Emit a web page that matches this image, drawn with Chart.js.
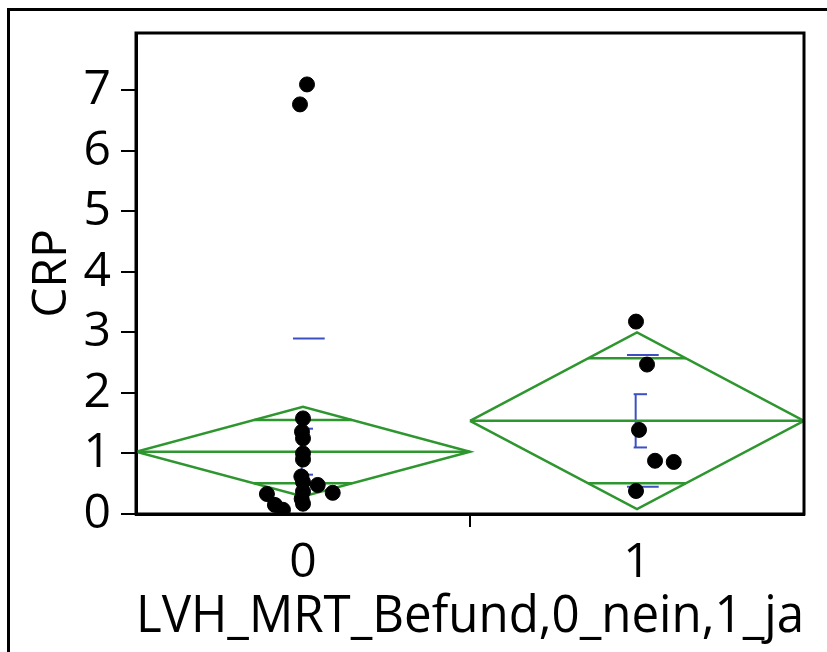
<!DOCTYPE html>
<html>
<head>
<meta charset="utf-8">
<script src="https://cdn.jsdelivr.net/npm/chart.js@4.4.1/dist/chart.umd.min.js"></script>
<style>
  html, body { margin: 0; padding: 0; background: #fff; }
  #wrap { position: relative; width: 827px; height: 652px; }
</style>
</head>
<body>
<div id="wrap"><canvas id="crpChart" width="827" height="652"></canvas></div>
<script>
// categories and raw CRP values (x jitter in category units)
const categories = ['0', '1'];
const crp0 = [7.1, 6.77, 1.58, 1.36, 1.25, 1.0, 0.9, 0.62, 0.53, 0.48, 0.37, 0.35, 0.33, 0.25, 0.17, 0.15, 0.07];
const jitter0 = [0.012, -0.009, 0.0, -0.003, 0.0, 0.0, 0.0, -0.005, 0.0, 0.044, 0.0, 0.089, -0.108, -0.004, 0.0, -0.084, -0.06];
const crp1 = [3.18, 2.47, 1.39, 0.88, 0.86, 0.38];
const jitter1 = [-0.003, 0.03, 0.006, 0.054, 0.11, -0.003];

// group summaries
const means = [1.03, 1.54];
const ciHalf = [0.74, 1.46];
const sdVals = [1.87, 1.09];
const seVals = [0.38, 0.44];

const yTicks = [0, 1, 2, 3, 4, 5, 6, 7];

const green = 'rgb(46,150,46)';
const blue = 'rgb(60,80,195)';

const groups = [
  { y: crp0, j: jitter0 },
  { y: crp1, j: jitter1 }
];

const datasets = [];

// raw points, drawn on top
groups.forEach(function (g, i) {
  datasets.push({
    data: g.y.map(function (v, k) { return { x: i + g.j[k], y: v }; }),
    backgroundColor: '#000',
    borderColor: '#000',
    pointRadius: 7.5,
    pointHoverRadius: 7.5,
    order: 0
  });
});

function seg(pts, color, width) {
  datasets.push({
    data: pts,
    showLine: true,
    borderColor: color,
    borderWidth: width,
    pointRadius: 0,
    fill: false,
    tension: 0,
    order: 1
  });
}

categories.forEach(function (c, i) {
  const m = means[i], ci = ciHalf[i];
  // means diamond
  seg([{ x: i - 0.5, y: m }, { x: i, y: m + ci }, { x: i + 0.5, y: m }, { x: i, y: m - ci }, { x: i - 0.5, y: m }], green, 2.5);
  seg([{ x: i - 0.5, y: m }, { x: i + 0.5, y: m }], green, 2.5);
  // overlap marks
  const h = ci / Math.SQRT2;
  const w = 0.5 * (1 - 1 / Math.SQRT2);
  seg([{ x: i - w, y: m + h }, { x: i + w, y: m + h }], green, 2.5);
  seg([{ x: i - w, y: m - h }, { x: i + w, y: m - h }], green, 2.5);
  // std dev lines
  seg([{ x: i - 0.03, y: m + sdVals[i] }, { x: i + 0.065, y: m + sdVals[i] }], blue, 2);
  seg([{ x: i - 0.03, y: m - sdVals[i] }, { x: i + 0.065, y: m - sdVals[i] }], blue, 2);
  // std error bars
  const se = seVals[i];
  seg([{ x: i - 0.004, y: m - se }, { x: i - 0.004, y: m + se }], blue, 2);
  seg([{ x: i - 0.01, y: m + se }, { x: i + 0.03, y: m + se }], blue, 2);
  seg([{ x: i - 0.01, y: m - se }, { x: i + 0.03, y: m - se }], blue, 2);
});

// box around the plot and the outer frame
const framePlugin = {
  id: 'frame',
  afterDraw: function (chart) {
    const ctx = chart.ctx;
    const a = chart.chartArea;
    ctx.save();
    ctx.strokeStyle = '#000';
    ctx.lineWidth = 3;
    ctx.strokeRect(a.left, a.top, a.right - a.left, a.bottom - a.top);
    ctx.beginPath();
    ctx.moveTo(8.5, 652);
    ctx.lineTo(8.5, 9.5);
    ctx.lineTo(827, 9.5);
    ctx.stroke();
    ctx.restore();
  }
};

const ctx = document.getElementById('crpChart').getContext('2d');
const chart = new Chart(ctx, {
  type: 'scatter',
  data: { datasets: datasets },
  plugins: [framePlugin],
  options: {
    responsive: false,
    animation: false,
    events: [],
    layout: { padding: { left: 0, top: 33, right: 23, bottom: 0 } },
    plugins: { legend: { display: false }, tooltip: { enabled: false } },
    scales: {
      x: {
        type: 'linear',
        min: -0.5,
        max: 1.5,
        afterBuildTicks: function (scale) {
          scale.ticks = [-0.5, 0, 0.5, 1, 1.5].map(function (v) { return { value: v }; });
        },
        afterFit: function (scale) {
          scale.height = 138;
          scale.paddingLeft = 0;
          scale.paddingRight = 0;
        },
        ticks: {
          color: '#000',
          padding: 8,
          maxRotation: 0,
          autoSkip: false,
          font: { family: 'Open Sans', size: 48 },
          callback: function (v) {
            const idx = categories.indexOf(String(v));
            return idx >= 0 ? categories[idx] : '';
          }
        },
        grid: {
          drawOnChartArea: false,
          tickLength: 13,
          lineWidth: 2,
          color: function (c) { return c.tick && c.tick.value === 0.5 ? '#000' : 'rgba(0,0,0,0)'; }
        },
        border: { display: true, color: '#000', width: 3 },
        title: {
          display: true,
          text: 'LVH_MRT_Befund,0_nein,1_ja',
          color: '#000',
          font: { family: 'Open Sans', size: 51 },
          padding: { top: 0, bottom: 4 }
        }
      },
      y: {
        min: 0,
        max: 7.95,
        afterBuildTicks: function (scale) {
          scale.ticks = yTicks.map(function (v) { return { value: v }; });
        },
        afterFit: function (scale) {
          scale.width = 136;
          scale.paddingTop = 0;
          scale.paddingBottom = 0;
        },
        ticks: {
          color: '#000',
          padding: 10,
          font: { family: 'Open Sans', size: 48 }
        },
        grid: {
          drawOnChartArea: false,
          tickLength: 15,
          lineWidth: 2,
          color: '#000'
        },
        border: { display: true, color: '#000', width: 3 },
        title: {
          display: true,
          text: 'CRP',
          color: '#000',
          font: { family: 'Open Sans', size: 48 },
          padding: { top: 24, bottom: 0 }
        }
      }
    }
  }
});
</script>
</body>
</html>
